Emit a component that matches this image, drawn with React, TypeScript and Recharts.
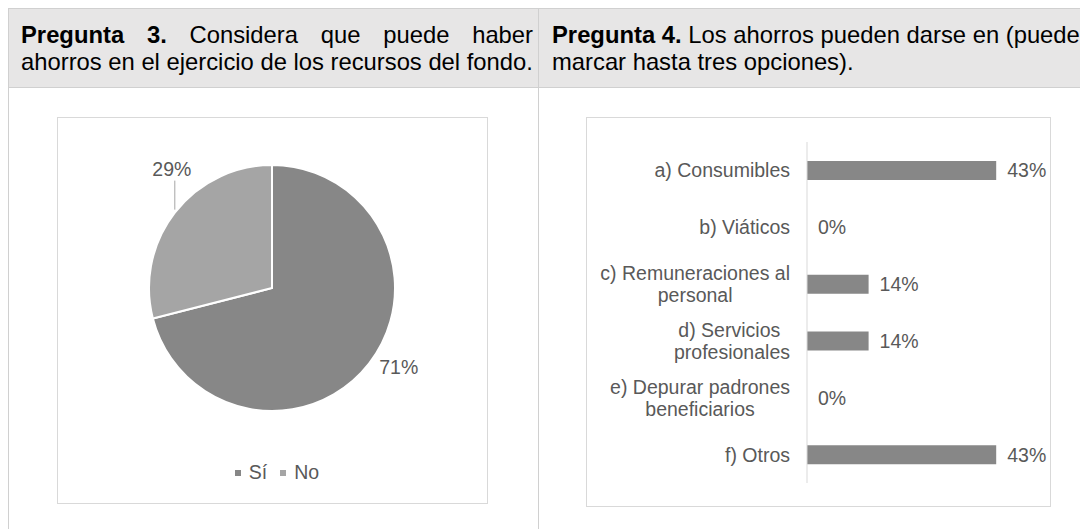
import React from "react";
import { PieChart, Pie, Cell, Legend, BarChart, Bar, XAxis, YAxis, LabelList } from "recharts";

// Pregunta 3
const pieNames = ["Sí", "No"];
const pieValues = [71, 29];
const pieColors = ["#878787", "#a5a5a5"];

// Pregunta 4
const barCategories = [
  "a) Consumibles",
  "b) Viáticos",
  "c) Remuneraciones al\npersonal",
  "d) Servicios \nprofesionales",
  "e) Depurar padrones\nbeneficiarios",
  "f) Otros",
];
const barValues = [43, 0, 14, 14, 0, 43];

const pieData = pieNames.map((name, i) => ({ name, value: pieValues[i] }));
const barData = barCategories.map((name, i) => ({ name, value: barValues[i] }));

const FONT = "'Liberation Sans', Arial, sans-serif";
const LABEL_SIZE = 19.5;
const LABEL_COLOR = "#595959";
const LINE = "#d0d0d0";
const RAD = Math.PI / 180;

let ctx: CanvasRenderingContext2D | null = null;
const textWidth = (s: string) => {
  if (!ctx) ctx = document.createElement("canvas").getContext("2d");
  if (!ctx) return s.length * 9;
  ctx.font = `${LABEL_SIZE}px 'Liberation Sans'`;
  return ctx.measureText(s).width;
};

const CategoryTick = (props: any) => {
  const { x, y, payload } = props;
  const lines = String(payload.value).split("\n");
  const w = Math.max(...lines.map(textWidth));
  const mid = x - w / 2;
  return (
    <g>
      {lines.map((l, i) => (
        <text
          key={i}
          x={lines.length > 1 ? mid : x}
          y={y + (i - (lines.length - 1) / 2) * 22}
          dy="0.36em"
          textAnchor={lines.length > 1 ? "middle" : "end"}
          fill={LABEL_COLOR}
          fontSize={LABEL_SIZE}
          fontFamily={FONT}
          style={{ whiteSpace: "pre" }}
        >
          {l}
        </text>
      ))}
    </g>
  );
};

const renderPieLabel = (p: any) => {
  const { cx, cy, midAngle, outerRadius, value } = p;
  const ex = cx + outerRadius * Math.cos(-midAngle * RAD);
  const ey = cy + outerRadius * Math.sin(-midAngle * RAD);
  if (ey < cy) {
    return (
      <g>
        <line x1={ex} y1={ey - 3} x2={ex} y2={ey - 32} stroke="#a6a6a6" />
        <text x={ex - 3} y={ey - 37} textAnchor="middle" fill={LABEL_COLOR} fontSize={LABEL_SIZE} fontFamily={FONT}>
          {value}%
        </text>
      </g>
    );
  }
  return (
    <text x={ex + 10} y={ey + 11} textAnchor="start" fill={LABEL_COLOR} fontSize={LABEL_SIZE} fontFamily={FONT}>
      {value}%
    </text>
  );
};

const PieLegend = (props: any) => {
  const items = [...(props.payload || [])].sort(
    (a: any, b: any) => pieNames.indexOf(a.value) - pieNames.indexOf(b.value)
  );
  return (
    <div
      style={{
        display: "flex",
        justifyContent: "center",
        alignItems: "center",
        fontFamily: FONT,
        fontSize: LABEL_SIZE,
        color: LABEL_COLOR,
        paddingLeft: 9,
      }}
    >
      {items.map((it: any, i: number) => (
        <span key={i} style={{ display: "inline-flex", alignItems: "center", marginRight: i < items.length - 1 ? 13 : 0 }}>
          <span style={{ display: "inline-block", width: 6, height: 6, background: it.color, marginRight: 8 }} />
          {it.value}
        </span>
      ))}
    </div>
  );
};

export default function App() {
  return (
    <div style={{ position: "relative", width: 1080, height: 521, overflow: "hidden", fontFamily: FONT, background: "#fff" }}>
      {/* header row */}
      <div
        style={{
          position: "absolute",
          left: 0,
          top: 0,
          width: 1080,
          height: 80,
          background: "#e7e6e6",
          borderTop: `1px solid ${LINE}`,
          borderBottom: `1px solid ${LINE}`,
          boxSizing: "border-box",
        }}
      />
      <div style={{ position: "absolute", left: 0, top: 0, width: 1, height: 521, background: LINE }} />
      <div style={{ position: "absolute", left: 530, top: 0, width: 1, height: 521, background: LINE }} />

      <div style={{ position: "absolute", left: 13, top: 13, width: 512, fontSize: 23.8, lineHeight: "27px", color: "#000" }}>
        <div style={{ textAlign: "justify", textAlignLast: "justify", whiteSpace: "nowrap" }}>
          <b>Pregunta 3.</b> Considera que puede haber
        </div>
        <div style={{ whiteSpace: "nowrap" }}>ahorros en el ejercicio de los recursos del fondo.</div>
      </div>
      <div style={{ position: "absolute", left: 544, top: 13, fontSize: 23.8, lineHeight: "27px", color: "#000" }}>
        <div style={{ whiteSpace: "nowrap" }}>
          <b>Pregunta 4.</b> Los ahorros pueden darse en (puede
        </div>
        <div style={{ whiteSpace: "nowrap" }}>marcar hasta tres opciones).</div>
      </div>

      {/* pie chart */}
      <div
        style={{
          position: "absolute",
          left: 49,
          top: 109,
          width: 431,
          height: 387,
          border: "1px solid #d9d9d9",
          boxSizing: "border-box",
        }}
      >
        <PieChart width={429} height={385}>
          <Pie
            data={pieData}
            dataKey="value"
            nameKey="name"
            cx={209}
            cy={165}
            outerRadius={123}
            startAngle={90}
            endAngle={-270}
            stroke="#ffffff"
            strokeWidth={2}
            label={renderPieLabel}
            labelLine={false}
            isAnimationActive={false}
          >
            {pieData.map((d, i) => (
              <Cell key={d.name} fill={pieColors[i]} />
            ))}
          </Pie>
          <Legend content={<PieLegend />} wrapperStyle={{ top: 343, left: 0, width: 429 }} />
        </PieChart>
      </div>

      {/* bar chart */}
      <div
        style={{
          position: "absolute",
          left: 578,
          top: 109,
          width: 465,
          height: 390,
          border: "1px solid #d9d9d9",
          boxSizing: "border-box",
        }}
      >
        <BarChart
          layout="vertical"
          width={463}
          height={388}
          data={barData}
          margin={{ top: 24, right: 23, bottom: 23, left: 0 }}
          barSize={19}
        >
          <XAxis type="number" domain={[0, 50]} hide />
          <YAxis
            type="category"
            dataKey="name"
            width={220}
            axisLine={{ stroke: "#d9d9d9" }}
            tickLine={false}
            tickSize={0}
            tickMargin={17}
            interval={0}
            tick={<CategoryTick />}
          />
          <Bar dataKey="value" fill="#878787" minPointSize={0.01} isAnimationActive={false}>
            <LabelList
              dataKey="value"
              position="right"
              offset={11}
              formatter={(v: any) => `${v}%`}
              fill={LABEL_COLOR}
              fontSize={LABEL_SIZE}
              fontFamily={FONT}
            />
          </Bar>
        </BarChart>
      </div>
    </div>
  );
}
